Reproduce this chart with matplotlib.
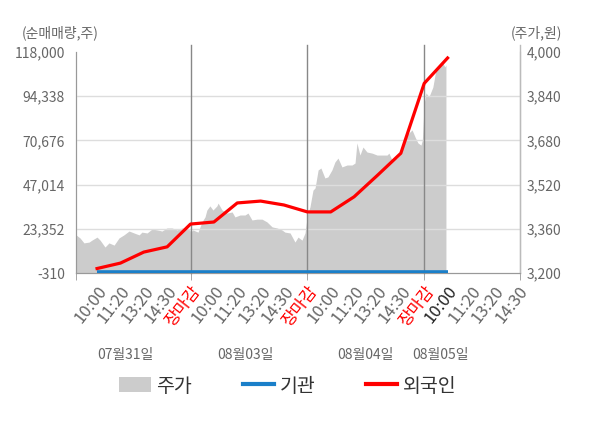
import matplotlib
matplotlib.use('Agg')
import matplotlib.pyplot as plt
from matplotlib.patches import Patch
from matplotlib.lines import Line2D

plt.rcParams['font.family'] = ['Noto Sans CJK KR', 'DejaVu Sans']

# x positions are in "slot" units: each day has 5 slots, day boundaries at 5, 10, 15
slot_labels = ['10:00', '11:20', '13:20', '14:30', '장마감',
               '10:00', '11:20', '13:20', '14:30', '장마감',
               '10:00', '11:20', '13:20', '14:30', '장마감',
               '10:00', '11:20', '13:20', '14:30']
day_labels = ['07월31일', '08월03일', '08월04일', '08월05일']
day_label_pos = [2.2, 7.33, 12.47, 15.68]
day_bounds = [5, 10, 15]

# investor net buying (주), one point per slot
flow_t = [1, 2, 3, 4, 5, 6, 7, 8, 9, 10, 11, 12, 13, 14, 15, 16]
foreign = [2100, 5000, 10900, 13700, 25900, 27000, 37200, 38200, 36100,
           32400, 32400, 40500, 52000, 63800, 101200, 114800]
institution = [0, 0, 0, 0, 0, 0, 0, 0, 0, 0, 0, 0, 0, 0, 0, 0]

# stock price (원), read along the grey silhouette
price_t = [0.1, 0.27, 0.44, 0.66, 0.78, 1.0, 1.13, 1.34, 1.51, 1.73, 1.94, 2.15,
           2.37, 2.58, 2.8, 2.92, 3.14, 3.35, 3.57, 3.78, 3.99, 4.21, 4.42, 4.64,
           4.85, 4.98,
           5.0, 5.1, 5.32, 5.49, 5.62, 5.7, 5.83, 5.96, 6.13, 6.18, 6.35, 6.56,
           6.78, 6.9, 7.12, 7.33, 7.46, 7.63, 7.85, 8.06, 8.27, 8.49, 8.7, 8.91,
           9.04, 9.26, 9.47, 9.6, 9.77, 9.9,
           10.0, 10.11, 10.24, 10.33, 10.46, 10.58, 10.75, 10.88, 11.05, 11.18,
           11.31, 11.48, 11.7, 11.91, 12.04, 12.12, 12.25, 12.38, 12.55, 12.77,
           12.98, 13.19, 13.41, 13.49, 13.62, 13.84, 13.96, 14.09, 14.26, 14.48,
           14.61, 14.73, 14.86, 14.92,
           15.0, 15.08, 15.2, 15.37, 15.5, 15.63, 15.8, 15.88, 15.93]
price = [3338, 3327, 3309, 3312, 3319, 3330, 3319, 3294, 3309, 3301, 3327, 3338,
         3352, 3345, 3338, 3348, 3345, 3359, 3356, 3352, 3363, 3363, 3356, 3363,
         3359, 3356,
         3348, 3356, 3348, 3385, 3403, 3428, 3443, 3428, 3443, 3453, 3428, 3417,
         3421, 3403, 3410, 3410, 3417, 3392, 3395, 3395, 3385, 3367, 3363, 3356,
         3348, 3345, 3312, 3330, 3319, 3345,
         3410, 3439, 3500, 3508, 3573, 3580, 3544, 3548, 3573, 3602,
         3616, 3584, 3591, 3591, 3598, 3671, 3627, 3656, 3638, 3634,
         3627, 3627, 3627, 3634, 3609, 3616, 3627, 3653, 3700, 3718,
         3692, 3671, 3663, 3681,
         3815, 3852, 3837, 3873, 3935, 3953, 3960, 3946, 3953]

left_ticks = [-310, 23352, 47014, 70676, 94338, 118000]
right_ticks = [3200, 3360, 3520, 3680, 3840, 4000]

fig = plt.figure(figsize=(6, 4.28), dpi=100)
ax = fig.add_axes([0.1267, 0.3621, 0.74, 0.5164])
ax2 = ax.twinx()

# price area sits behind the flow lines
ax.set_zorder(2)
ax2.set_zorder(1)
ax.patch.set_visible(False)
ax2.patch.set_facecolor('#f4f4f4')

ax2.fill_between(price_t, price, 3200, color='#cccccc', linewidth=0)
ax2.set_ylim(3200, 4000)
ax2.set_yticks(right_ticks)
ax2.set_yticklabels([f'{v:,}' for v in right_ticks])

ax.plot(flow_t, institution, color='#1a7fc9', lw=2.6, solid_capstyle='butt', zorder=4)
ax.plot(flow_t, foreign, color='#ff0000', lw=2.3, zorder=5)
ax.set_ylim(-310, 118000)
ax.set_yticks(left_ticks)
ax.set_yticklabels([f'{v:,}' for v in left_ticks])
ax.set_xlim(0.1, 19.1)

for v in left_ticks[1:-1]:
    ax.axhline(v, color='#dddddd', lw=1, zorder=1)
for b in day_bounds:
    ax.axvline(b, ymin=0, ymax=1.032, color='#888888', lw=1, clip_on=False, zorder=3)

# time labels as major ticks, day boundary marks as minor ticks
ax.xaxis.remove_overlapping_locs = False
ax.set_xticks(range(1, 20))
ax.set_xticklabels(slot_labels, rotation=52, ha='right', va='top',
                   rotation_mode='anchor', fontsize=12)
ax.tick_params(axis='x', which='major', length=0, pad=7)
ax.set_xticks([0.1] + day_bounds + [19.1], minor=True)
ax.tick_params(axis='x', which='minor', length=5, color='#999999', direction='out')
for i, t in enumerate(ax.get_xticklabels()):
    if slot_labels[i] == '장마감':
        t.set_color('#ff0000')
    elif i == 15:
        t.set_color('#222222')
    else:
        t.set_color('#666666')

ax.tick_params(axis='y', length=0, pad=8, labelsize=10, labelcolor='#666666')
ax2.tick_params(axis='y', length=0, pad=5, labelsize=10, labelcolor='#666666')

for a in (ax, ax2):
    a.spines['top'].set_visible(False)
    a.spines['left'].set_color('#999999')
    a.spines['right'].set_color('#bbbbbb')
    a.spines['bottom'].set_color('#999999')
ax.plot([1, 1], [0, 1.032], transform=ax.transAxes, color='#bbbbbb', lw=1, clip_on=False)

for lab, x in zip(day_labels, day_label_pos):
    ax.text(x, -0.37, lab, transform=ax.get_xaxis_transform(), ha='center', va='center',
            fontsize=10, color='#666666')

fig.text(22 / 600, 1 - 33 / 428, '(순매매량,주)', ha='left', va='center', fontsize=10, color='#666666')
fig.text(562 / 600, 1 - 33 / 428, '(주가,원)', ha='right', va='center', fontsize=10, color='#666666')

handles = [Patch(facecolor='#cccccc', edgecolor='none'),
           Line2D([], [], color='#1a7fc9', lw=3),
           Line2D([], [], color='#ff0000', lw=3)]
fig.legend(handles, ['주가', '기관', '외국인'], loc='center',
           bbox_to_anchor=(288 / 600, 1 - 386 / 428), ncol=3, frameon=False,
           fontsize=14, handlelength=1.6, handleheight=0.8, handletextpad=0.3,
           columnspacing=2.6, labelcolor='#333333')

fig.savefig('out.png', dpi=100)
